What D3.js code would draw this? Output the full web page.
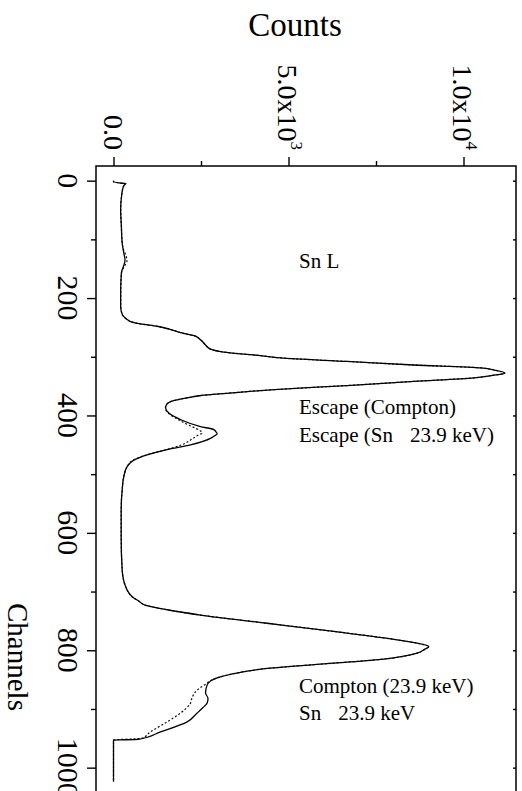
<!DOCTYPE html>
<html>
<head>
<meta charset="utf-8">
<script src="https://cdn.jsdelivr.net/npm/d3@7"></script>
<style>
  html, body { margin: 0; padding: 0; background: #fff; }
  svg { display: block; font-family: "Liberation Serif", "Times New Roman", serif; }
  .axis path { display: none; }
  .axis line { stroke: #000; stroke-width: 1.4; }
</style>
</head>
<body>
<div id="chart"></div>
<script>
// spectrum: [channel, counts]
var solidSeries = [
  [0, 0], [2, 0], [4, 200], [5, 350], [8, 300], [15, 260], [27, 229], [49, 205], [78, 225],
  [106, 248], [125, 300], [135, 330], [145, 290], [157, 225], [191, 205], [214, 205],
  [228, 250], [236, 380], [240, 486], [244, 771], [248, 1248], [255, 1714], [259, 1914],
  [264, 2300], [271, 2486], [280, 2630], [287, 2771], [292, 3152], [295, 3630], [298, 4200],
  [302, 4771], [308, 6676], [314, 8580], [319, 10500], [323, 10900], [328, 11180],
  [332, 10800], [336, 10300], [342, 8580], [349, 6676], [356, 4600], [359, 3900],
  [362, 3300], [366, 2500], [370, 2100], [376, 1650], [381, 1520], [387, 1486], [396, 1581],
  [407, 1914], [419, 2486], [424, 2866], [428, 2930], [431, 2962], [435, 2880], [439, 2771],
  [450, 2200], [458, 1533], [467, 962], [476, 581], [487, 390], [504, 295], [527, 248],
  [561, 219], [606, 219], [663, 248], [691, 343], [711, 581], [716, 720], [723, 900],
  [731, 1533], [740, 2486], [754, 4390], [768, 6295], [779, 7724], [788, 8676], [794, 9010],
  [798, 8900], [805, 8676], [815, 7724], [822, 6295], [831, 4390], [838, 3600], [847, 2962],
  [859, 2676], [873, 2630], [882, 2700], [890, 2676], [898, 2550], [907, 2390], [922, 2105],
  [939, 1343], [952, 700], [953, 0], [1024, 0]
];

var dottedSeries = [
  [0, 0], [2, 0], [4, 200], [5, 350], [8, 300], [15, 260], [27, 229], [49, 205], [78, 225],
  [106, 248], [118, 290], [128, 360], [137, 385], [146, 310], [157, 230], [191, 205], [214, 205],
  [228, 250], [236, 380], [240, 486], [244, 771], [248, 1248], [255, 1714], [259, 1914],
  [264, 2300], [271, 2486], [280, 2630], [287, 2771], [292, 3152], [295, 3630], [298, 4200],
  [302, 4771], [308, 6676], [314, 8580], [319, 10500], [323, 10900], [328, 11180],
  [332, 10800], [336, 10300], [342, 8580], [349, 6676], [356, 4600], [359, 3900],
  [362, 3300], [366, 2500], [370, 2100], [376, 1650], [381, 1520], [387, 1486], [396, 1560],
  [407, 1850], [415, 2100], [422, 2350], [427, 2500], [430, 2533], [434, 2400], [440, 2250],
  [450, 1950], [460, 1400], [468, 900], [476, 560], [487, 390], [504, 295], [527, 248],
  [561, 219], [606, 219], [663, 248], [691, 343], [711, 581], [716, 720], [723, 900],
  [731, 1533], [740, 2486], [754, 4390], [768, 6295], [779, 7724], [788, 8676], [794, 9010],
  [798, 8900], [805, 8676], [815, 7724], [822, 6295], [831, 4390], [838, 3600], [847, 2962],
  [859, 2600], [868, 2390], [880, 2250], [890, 2200], [907, 1914], [922, 1533],
  [939, 1057], [950, 800], [953, 0], [1024, 0]
];

var countTicks = [0, 2500, 5000, 7500, 10000];
var countLabels = [
  { value: 0, text: '0.0', sup: '' },
  { value: 5000, text: '5.0x10', sup: '3' },
  { value: 10000, text: '1.0x10', sup: '4' }
];
var channelTicks = [0, 100, 200, 300, 400, 500, 600, 700, 800, 900, 1000];
var channelLabels = [0, 200, 400, 600, 800, 1000];

var annotations = [
  { ch: 148, lines: [['Sn L']] },
  { ch: 397, lines: [['Escape (Compton)']] },
  { ch: 445, lines: [['Escape (Sn', '23.9 keV)']] },
  { ch: 873, lines: [['Compton (23.9 keV)']] },
  { ch: 919, lines: [['Sn', '23.9 keV']] }
];

var W = 522, H = 791;
var box = { left: 96, right: 516, top: 166, bottom: 797 };

var x = d3.scaleLinear().domain([-500, 11500]).range([box.left, box.right]);
var y = d3.scaleLinear().domain([-25, 1050]).range([box.top, box.bottom]);

var svg = d3.select('#chart').append('svg')
  .attr('width', W)
  .attr('height', H);

svg.append('defs').append('clipPath').attr('id', 'plot-clip')
  .append('rect')
  .attr('x', box.left).attr('y', box.top)
  .attr('width', box.right - box.left).attr('height', box.bottom - box.top);

// top axis (counts)
var topAxis = svg.append('g')
  .attr('class', 'axis')
  .attr('transform', 'translate(0,' + box.top + ')')
  .call(d3.axisTop(x).tickValues(countTicks).tickFormat('').tickSize(9));
topAxis.selectAll('.tick line')
  .attr('y2', function(d) { return d % 5000 === 0 ? -9 : -5; });

// left axis (channels)
var leftAxis = svg.append('g')
  .attr('class', 'axis')
  .attr('transform', 'translate(' + box.left + ',0)')
  .call(d3.axisLeft(y).tickValues(channelTicks).tickFormat('').tickSize(9));
leftAxis.selectAll('.tick line')
  .attr('x2', function(d) { return d % 200 === 0 ? -9 : -5; });

// right axis, short inward ticks
svg.append('g')
  .attr('class', 'axis')
  .attr('transform', 'translate(' + box.right + ',0)')
  .call(d3.axisLeft(y).tickValues(channelTicks).tickFormat('').tickSize(3));

// frame
svg.append('path')
  .attr('d', 'M' + box.left + ',' + box.bottom + 'V' + box.top + 'H' + box.right + 'V' + box.bottom)
  .attr('fill', 'none')
  .attr('stroke', '#000')
  .attr('stroke-width', 1.5);

// tick labels, rotated like the original
countLabels.forEach(function(d) {
  var g = svg.append('g')
    .attr('transform', 'translate(' + x(d.value) + ',150) rotate(90)');
  var t = g.append('text')
    .attr('text-anchor', 'end')
    .attr('font-size', 28)
    .text(d.text);
  if (d.sup) {
    t.append('tspan').attr('font-size', 17).attr('dy', -13).text(d.sup);
  }
  var bb = t.node().getBBox();
  t.attr('transform', 'translate(0,' + (-(bb.y + bb.height / 2)) + ')');
});

channelLabels.forEach(function(d) {
  svg.append('text')
    .attr('transform', 'translate(58,' + y(d) + ') rotate(90)')
    .attr('text-anchor', 'middle')
    .attr('font-size', 30)
    .text(d);
});

// axis titles
svg.append('text')
  .attr('x', 295).attr('y', 36)
  .attr('text-anchor', 'middle')
  .attr('font-size', 33)
  .text('Counts');

svg.append('text')
  .attr('transform', 'translate(8,657) rotate(90)')
  .attr('text-anchor', 'middle')
  .attr('font-size', 29)
  .text('Channels');

// spectra
var line = d3.line()
  .x(function(d) { return x(d[1]); })
  .y(function(d) { return y(d[0]); })
  .curve(d3.curveMonotoneY);

var plot = svg.append('g').attr('clip-path', 'url(#plot-clip)');

plot.append('path')
  .datum(dottedSeries)
  .attr('d', line)
  .attr('fill', 'none')
  .attr('stroke', '#111')
  .attr('stroke-width', 1.2)
  .attr('stroke-dasharray', '2,2');

plot.append('path')
  .datum(solidSeries)
  .attr('d', line)
  .attr('fill', 'none')
  .attr('stroke', '#000')
  .attr('stroke-width', 1.3);

// peak labels
annotations.forEach(function(a) {
  a.lines.forEach(function(parts) {
    var t = svg.append('text')
      .attr('x', x(5300))
      .attr('y', y(a.ch))
      .attr('font-size', 21)
      .text(parts[0]);
    if (parts[1]) {
      t.append('tspan').attr('dx', 17).text(parts[1]);
    }
  });
});
</script>
</body>
</html>
